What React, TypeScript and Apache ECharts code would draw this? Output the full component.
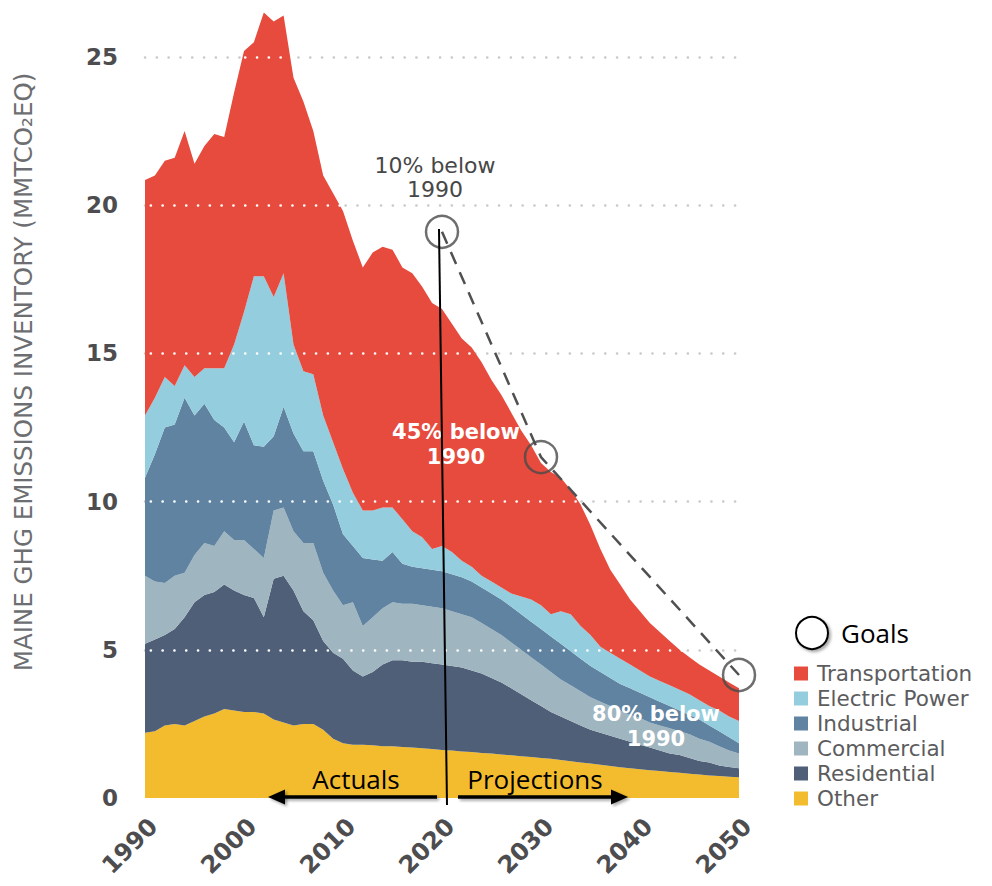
import React, { useEffect, useRef } from "react";
import * as echarts from "echarts";

// ---- data ----
const years = [
  1990, 1991, 1992, 1993, 1994, 1995, 1996, 1997, 1998, 1999,
  2000, 2001, 2002, 2003, 2004, 2005, 2006, 2007, 2008, 2009,
  2010, 2011, 2012, 2013, 2014, 2015, 2016, 2017, 2018, 2019,
  2020, 2021, 2022, 2023, 2024, 2025, 2026, 2027, 2028, 2029,
  2030, 2031, 2032, 2033, 2034, 2035, 2036, 2037, 2038, 2039,
  2040, 2041, 2042, 2043, 2044, 2045, 2046, 2047, 2048, 2049, 2050,
];

// cumulative upper edge of each band (MMTCO2eq)
const otherTop = [
  2.2, 2.25, 2.45, 2.5, 2.45, 2.6, 2.75, 2.85, 3.0, 2.95,
  2.9, 2.9, 2.85, 2.65, 2.55, 2.45, 2.5, 2.5, 2.3, 2.0,
  1.85, 1.8, 1.8, 1.78, 1.75, 1.75, 1.72, 1.7, 1.68, 1.65,
  1.62, 1.6, 1.57, 1.55, 1.52, 1.5, 1.47, 1.44, 1.41, 1.38,
  1.35, 1.32, 1.28, 1.24, 1.2, 1.16, 1.12, 1.08, 1.04, 1.0,
  0.97, 0.94, 0.91, 0.88, 0.85, 0.82, 0.79, 0.76, 0.74, 0.72, 0.7,
];
const residentialTop = [
  5.2, 5.35, 5.5, 5.7, 6.1, 6.6, 6.85, 6.95, 7.2, 7.0,
  6.85, 6.75, 6.1, 7.4, 7.5, 7.0, 6.3, 6.0, 5.3, 4.9,
  4.7, 4.3, 4.1, 4.25, 4.5, 4.65, 4.65, 4.6, 4.6, 4.55,
  4.5, 4.45, 4.4, 4.3, 4.2, 4.05, 3.9, 3.7, 3.5, 3.3,
  3.1, 2.9, 2.75, 2.6, 2.45, 2.3, 2.2, 2.1, 2.0, 1.9,
  1.8, 1.7, 1.6, 1.5, 1.45, 1.35, 1.25, 1.2, 1.1, 1.05, 1.0,
];
const commercialTop = [
  7.5, 7.3, 7.25, 7.5, 7.6, 8.2, 8.6, 8.5, 9.0, 8.7,
  8.7, 8.4, 8.1, 9.7, 9.8, 9.0, 8.6, 8.6, 7.6, 7.0,
  6.5, 6.6, 5.8, 6.1, 6.4, 6.6, 6.55, 6.55, 6.5, 6.45,
  6.4, 6.3, 6.2, 6.1, 5.9, 5.7, 5.5, 5.25, 5.0, 4.75,
  4.5, 4.25, 4.0, 3.8, 3.6, 3.4, 3.25, 3.1, 2.95, 2.8,
  2.7, 2.55, 2.45, 2.35, 2.25, 2.15, 2.0, 1.9, 1.75, 1.6, 1.5,
];
const industrialTop = [
  10.8, 11.6, 12.5, 12.6, 13.5, 12.9, 13.3, 12.75, 12.5, 12.0,
  12.7, 11.9, 11.85, 12.2, 13.2, 12.3, 11.7, 11.7, 10.7, 9.9,
  8.9, 8.5, 8.1, 8.05, 8.0, 8.3, 7.9, 7.8, 7.75, 7.7,
  7.65, 7.55, 7.45, 7.3, 7.1, 6.9, 6.7, 6.45, 6.2, 5.95,
  5.7, 5.45, 5.2, 4.95, 4.7, 4.45, 4.25, 4.05, 3.85, 3.7,
  3.55, 3.4, 3.25, 3.1, 2.95, 2.8, 2.65, 2.45, 2.25, 2.05, 1.85,
];
const electricTop = [
  12.9, 13.5, 14.2, 13.9, 14.6, 14.2, 14.5, 14.5, 14.5, 15.3,
  16.4, 17.6, 17.6, 16.9, 17.7, 15.3, 14.4, 14.3, 12.9, 12.0,
  11.1, 10.3, 9.7, 9.7, 9.8, 9.8, 9.4, 9.0, 8.8, 8.4,
  8.5, 8.3, 8.0, 7.8, 7.5, 7.3, 7.1, 6.9, 6.8, 6.7,
  6.5, 6.2, 6.3, 6.2, 5.8, 5.5, 5.1, 4.9, 4.7, 4.5,
  4.3, 4.1, 3.95, 3.8, 3.65, 3.5, 3.3, 3.1, 2.95, 2.75, 2.6,
];
const totalTop = [
  20.85, 21.0, 21.5, 21.6, 22.5, 21.4, 22.0, 22.4, 22.3, 23.8,
  25.2, 25.5, 26.5, 26.2, 26.4, 24.3, 23.5, 22.5, 21.0, 20.4,
  19.8, 18.8, 17.9, 18.4, 18.6, 18.5, 17.9, 17.7, 17.25, 16.7,
  16.5, 16.0, 15.5, 15.2, 14.7, 14.1, 13.6, 13.0, 12.4, 11.9,
  11.3, 11.0, 10.8, 10.4, 9.9, 9.2, 8.4, 7.7, 7.2, 6.7,
  6.3, 5.9, 5.6, 5.3, 5.0, 4.75, 4.5, 4.3, 4.1, 3.9, 3.7,
];

const sectorNames = ["Other", "Residential", "Commercial", "Industrial", "Electric Power", "Transportation"];
const sectorColors = ["#f3bc2f", "#4f5f78", "#9fb5bf", "#5f83a1", "#94cddd", "#e64b3d"];
const legendOrder = ["Transportation", "Electric Power", "Industrial", "Commercial", "Residential", "Other"];

const goalYears = [2020, 2030, 2050];
const goalValues = [19.1, 11.5, 4.15];
const goalLabels = ["10% below\n1990", "45% below\n1990", "80% below\n1990"];

const yTicks = [0, 5, 10, 15, 20, 25];
const xTicks = [1990, 2000, 2010, 2020, 2030, 2040, 2050];

const yAxisTitle = "MAINE GHG EMISSIONS INVENTORY (MMTCO\u2082EQ)";

export default function App() {
  const ref = useRef<HTMLDivElement>(null);

  useEffect(() => {
    if (!ref.current) return;
    const chart = echarts.init(ref.current, undefined, { renderer: "svg" });

    const tops = [otherTop, residentialTop, commercialTop, industrialTop, electricTop, totalTop];
    const sectorValues = tops.map((arr, i) =>
      arr.map((v, k) => +(v - (i > 0 ? tops[i - 1][k] : 0)).toFixed(2))
    );
    const cats = years.map(String);

    const gridValues = yTicks.filter((v) => v > 0);
    const dotted = [0.1, 11.7];

    const areaSeries = sectorNames.map((name, i) => {
      const s: any = {
        name,
        type: "line",
        stack: "total",
        data: sectorValues[i],
        symbol: "none",
        showSymbol: false,
        silent: true,
        lineStyle: { width: 0 },
        itemStyle: { color: sectorColors[i] },
        areaStyle: { color: sectorColors[i], opacity: 1 },
        z: 2,
      };
      if (i === 0) {
        s.markLine = {
          z: 1,
          silent: true,
          symbol: ["none", "none"],
          label: { show: false },
          lineStyle: { color: "#c9c9c9", width: 2.6, type: dotted, cap: "round" },
          data: gridValues.map((v) => ({ yAxis: v })),
        };
      }
      if (i === sectorNames.length - 1) {
        s.markLine = {
          z: 5,
          silent: true,
          symbol: ["none", "none"],
          label: { show: false },
          lineStyle: { color: "#ffffff", width: 2.6, type: dotted, dashOffset: 5.85, cap: "round" },
          data: gridValues.map((v) => ({ yAxis: v })),
        };
      }
      return s;
    });

    const goalData = goalYears.map((y, i) => [String(y), goalValues[i]]);

    const shadow = {
      shadowColor: "rgba(0,0,0,0.35)",
      shadowBlur: 3,
      shadowOffsetX: 2,
      shadowOffsetY: 2,
    };

    chart.setOption({
      animation: false,
      textStyle: { fontFamily: "DejaVu Sans" },
      grid: { left: 145, right: 253, top: 12.5, bottom: 88 },
      xAxis: {
        type: "category",
        data: cats,
        boundaryGap: false,
        axisLine: { show: false },
        axisTick: { show: false },
        splitLine: { show: false },
        axisLabel: {
          interval: 0,
          rotate: 45,
          margin: 16,
          verticalAlign: "top",
          fontFamily: "DejaVu Sans",
          fontWeight: "bold",
          fontSize: 24,
          color: "#4d4d4f",
          formatter: (v: string) => (xTicks.includes(Number(v)) ? v : ""),
        },
      },
      yAxis: {
        type: "value",
        min: 0,
        max: 26.5,
        interval: 5,
        axisLine: { show: false },
        axisTick: { show: false },
        splitLine: { show: false },
        axisLabel: {
          margin: 27,
          fontFamily: "DejaVu Sans",
          fontWeight: "bold",
          fontSize: 23,
          color: "#4d4d4f",
          formatter: (v: number) => (yTicks.includes(v) ? String(v) : ""),
        },
      },
      legend: {
        data: legendOrder,
        orient: "vertical",
        left: 789,
        top: 656,
        icon: "rect",
        itemWidth: 14,
        itemHeight: 14,
        itemGap: 0,
        selectedMode: false,
        textStyle: {
          fontFamily: "DejaVu Sans",
          fontSize: 21.5,
          color: "#5c5c5e",
          lineHeight: 25,
          padding: [0, 0, 0, 4],
        },
      },
      series: [
        ...areaSeries,
        {
          name: "goalLine",
          type: "line",
          data: goalData,
          symbol: "none",
          silent: true,
          z: 9,
          lineStyle: { color: "#505050", width: 2.5, type: [13, 9] },
        },
        {
          name: "Goals",
          type: "scatter",
          data: goalData,
          symbol: "circle",
          symbolSize: 32,
          silent: true,
          z: 10,
          itemStyle: { color: "rgba(0,0,0,0)", borderColor: "#4a4a4a", borderWidth: 2.5 },
        },
      ],
      graphic: [
        {
          type: "text",
          x: 23,
          y: 372,
          rotation: Math.PI / 2,
          z: 100,
          style: {
            text: yAxisTitle,
            fill: "#6d6e71",
            font: '24.5px "DejaVu Sans"',
            textAlign: "center",
            textVerticalAlign: "middle",
          },
        },
        {
          type: "text",
          x: 435,
          y: 177,
          z: 100,
          style: {
            text: goalLabels[0],
            fill: "#474747",
            font: '22px "DejaVu Sans"',
            lineHeight: 24,
            textAlign: "center",
            textVerticalAlign: "middle",
          },
        },
        {
          type: "text",
          x: 456,
          y: 444,
          z: 100,
          style: {
            text: goalLabels[1],
            fill: "#ffffff",
            font: 'bold 21px "DejaVu Sans"',
            lineHeight: 25,
            textAlign: "center",
            textVerticalAlign: "middle",
          },
        },
        {
          type: "text",
          x: 656,
          y: 726,
          z: 100,
          style: {
            text: goalLabels[2],
            fill: "#ffffff",
            font: 'bold 21px "DejaVu Sans"',
            lineHeight: 25,
            textAlign: "center",
            textVerticalAlign: "middle",
          },
        },
        {
          type: "line",
          z: 100,
          shape: { x1: 439, y1: 229, x2: 447, y2: 805 },
          style: { stroke: "#000000", lineWidth: 2 },
        },
        {
          type: "rect",
          z: 100,
          shape: { x: 282, y: 795.25, width: 155, height: 3.5 },
          style: { fill: "#000000", ...shadow },
        },
        {
          type: "polygon",
          z: 100,
          shape: { points: [[268, 797], [285, 789.5], [285, 804.5]] },
          style: { fill: "#000000", ...shadow },
        },
        {
          type: "rect",
          z: 100,
          shape: { x: 458, y: 795.25, width: 156, height: 3.5 },
          style: { fill: "#000000", ...shadow },
        },
        {
          type: "polygon",
          z: 100,
          shape: { points: [[628, 797], [611, 789.5], [611, 804.5]] },
          style: { fill: "#000000", ...shadow },
        },
        {
          type: "text",
          x: 356,
          y: 779,
          z: 100,
          style: {
            text: "Actuals",
            fill: "#000000",
            font: '26px "Open Sans"',
            textAlign: "center",
            textVerticalAlign: "middle",
            ...shadow,
          },
        },
        {
          type: "text",
          x: 535,
          y: 779,
          z: 100,
          style: {
            text: "Projections",
            fill: "#000000",
            font: '26px "Open Sans"',
            textAlign: "center",
            textVerticalAlign: "middle",
            ...shadow,
          },
        },
        {
          type: "circle",
          z: 100,
          shape: { cx: 812, cy: 633, r: 16 },
          style: { fill: "#ffffff", stroke: "#000000", lineWidth: 2, ...shadow },
        },
        {
          type: "text",
          x: 841,
          y: 633,
          z: 100,
          style: {
            text: "Goals",
            fill: "#000000",
            font: '26px "Open Sans"',
            textAlign: "left",
            textVerticalAlign: "middle",
            ...shadow,
          },
        },
      ],
    });

    return () => chart.dispose();
  }, []);

  return (
    <div
      ref={ref}
      style={{ position: "absolute", left: 0, top: 0, width: 992, height: 886, background: "#ffffff" }}
    />
  );
}
